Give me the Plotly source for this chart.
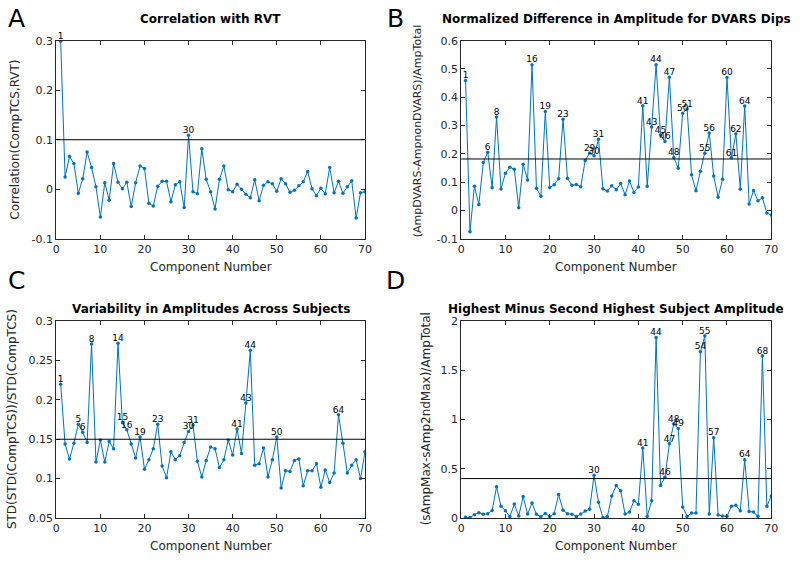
import plotly.graph_objects as go

# ---------------- data ----------------
components = list(range(1, 71))

corr_rvt = [0.299, 0.025, 0.066, 0.052, -0.008, 0.021, 0.075, 0.044, 0.005, -0.056,
            0.013, -0.022, 0.052, 0.014, 0.001, 0.014, -0.035, 0.013, 0.047, 0.042,
            -0.028, -0.034, 0.006, 0.016, 0.016, -0.025, 0.009, 0.015, -0.037, 0.109,
            -0.005, -0.009, 0.082, 0.020, -0.005, -0.040, 0.020, 0.047, -0.001, -0.005,
            0.010, 0.000, -0.010, -0.017, 0.019, -0.023, 0.008, 0.015, 0.011, -0.004,
            0.021, 0.011, -0.006, -0.002, 0.007, 0.015, 0.036, 0.001, -0.013, 0.002,
            -0.009, 0.044, -0.007, 0.016, -0.008, 0.005, 0.017, -0.058, -0.007, -0.005]

norm_diff_dvars = [0.459, -0.075, 0.086, 0.021, 0.170, 0.206, 0.080, 0.330, 0.076, 0.132,
                   0.153, 0.146, 0.010, 0.163, 0.108, 0.515, 0.079, 0.050, 0.350, 0.081,
                   0.091, 0.112, 0.322, 0.114, 0.089, 0.092, 0.084, 0.177, 0.203, 0.193,
                   0.252, 0.077, 0.069, 0.087, 0.073, 0.095, 0.056, 0.104, 0.064, 0.083,
                   0.370, 0.086, 0.295, 0.515, 0.267, 0.244, 0.471, 0.187, 0.149, 0.344,
                   0.359, 0.126, 0.070, 0.139, 0.202, 0.274, 0.122, 0.047, 0.110, 0.470,
                   0.186, 0.271, 0.075, 0.369, 0.023, 0.071, 0.034, 0.045, -0.009, -0.016]

variability = [0.220, 0.144, 0.125, 0.145, 0.169, 0.159, 0.146, 0.271, 0.121, 0.149,
               0.121, 0.147, 0.138, 0.272, 0.171, 0.162, 0.144, 0.126, 0.153, 0.112,
               0.124, 0.138, 0.169, 0.116, 0.101, 0.134, 0.124, 0.129, 0.146, 0.160,
               0.168, 0.122, 0.102, 0.123, 0.140, 0.138, 0.114, 0.124, 0.149, 0.130,
               0.163, 0.132, 0.196, 0.263, 0.117, 0.119, 0.139, 0.102, 0.124, 0.153,
               0.088, 0.110, 0.109, 0.123, 0.125, 0.091, 0.110, 0.110, 0.119, 0.089,
               0.111, 0.095, 0.107, 0.181, 0.145, 0.107, 0.117, 0.124, 0.100, 0.134]

max_minus_2nd = [0.007, 0.003, 0.033, 0.053, 0.036, 0.043, 0.076, 0.316, 0.118, 0.072,
                 0.013, 0.141, 0.020, 0.217, 0.039, 0.151, 0.036, 0.013, 0.046, 0.013,
                 0.043, 0.237, 0.079, 0.043, 0.036, 0.013, 0.039, 0.069, 0.089, 0.434,
                 0.158, 0.003, 0.013, 0.224, 0.329, 0.276, 0.039, 0.059, 0.174, 0.138,
                 0.711, 0.016, 0.174, 1.836, 0.329, 0.414, 0.753, 0.954, 0.908, 0.112,
                 0.016, 0.049, 0.049, 1.691, 1.852, 0.039, 0.816, 0.030, 0.020, 0.016,
                 0.118, 0.128, 0.072, 0.592, 0.066, 0.059, 0.016, 1.648, 0.118, 0.224]

thresholds = [0.1, 0.182, 0.15, 0.4]

labels_a = [1, 30]
labels_b = [1, 6, 8, 16, 19, 23, 29, 30, 31, 41, 43, 44, 45, 46, 47, 48, 50, 51,
            55, 56, 60, 61, 62, 64]
labels_c = [1, 5, 6, 8, 14, 15, 16, 19, 23, 30, 31, 41, 43, 44, 50, 64]
labels_d = [30, 41, 44, 46, 47, 48, 49, 54, 55, 57, 64, 68]

titles = ["Correlation with RVT",
          "Normalized Difference in Amplitude for DVARS Dips",
          "Variability in Amplitudes Across Subjects",
          "Highest Minus Second Highest Subject Amplitude"]
ylabels = ["Correlation(CompTCS,RVT)",
           "(AmpDVARS-AmpnonDVARS)/AmpTotal",
           "STD(STD(CompTCS))/STD(CompTCS)",
           "(sAmpMax-sAmp2ndMax)/AmpTotal"]
xlabel = "Component Number"
panel_letters = ["A", "B", "C", "D"]

x_ticks = [0, 10, 20, 30, 40, 50, 60, 70]
x_ticklabels = ["0", "10", "20", "30", "40", "50", "60", "70"]
y_ticks = [[-0.1, 0, 0.1, 0.2, 0.3],
           [-0.1, 0, 0.1, 0.2, 0.3, 0.4, 0.5, 0.6],
           [0.05, 0.1, 0.15, 0.2, 0.25, 0.3],
           [0, 0.5, 1, 1.5, 2]]
y_ticklabels = [["-0.1", "0", "0.1", "0.2", "0.3"],
                ["-0.1", "0", "0.1", "0.2", "0.3", "0.4", "0.5", "0.6"],
                ["0.05", "0.1", "0.15", "0.2", "0.25", "0.3"],
                ["0", "0.5", "1", "1.5", "2"]]
y_ranges = [[-0.1, 0.3], [-0.1, 0.6], [0.05, 0.3], [0, 2]]

series = [corr_rvt, norm_diff_dvars, variability, max_minus_2nd]
label_sets = [labels_a, labels_b, labels_c, labels_d]

# ---------------- layout geometry ----------------
W, H = 800, 563
FONT = "DejaVu Sans"
AX = "#262626"
BLUE = "#0072BD"

# plot areas in pixels: (left, right, top, bottom)
boxes = [(53, 366, 35.5, 238.3),
         (463.5, 778, 35.5, 238.3),
         (53, 366, 322.7, 524),
         (463.5, 778, 322.7, 524)]

def px_x(v):
    return v / W

def px_y(v):
    return 1 - v / H

fig = go.Figure()

for i in range(4):
    xa = "x" if i == 0 else f"x{i+1}"
    ya = "y" if i == 0 else f"y{i+1}"
    vals = series[i]
    fig.add_trace(go.Scatter(
        x=components, y=vals, mode="lines+markers",
        line=dict(color=BLUE, width=1),
        marker=dict(color=BLUE, size=3.5),
        xaxis=xa, yaxis=ya, showlegend=False, hoverinfo="x+y"))
    lx = label_sets[i]
    ly = [vals[c - 1] for c in lx]
    fig.add_trace(go.Scatter(
        x=lx, y=ly, mode="text", text=[str(c) for c in lx],
        textposition="top center",
        textfont=dict(family=FONT, size=9, color="#000000"),
        xaxis=xa, yaxis=ya, showlegend=False, hoverinfo="skip",
        cliponaxis=False))
    fig.add_shape(type="line", xref=xa, yref=ya, x0=0, x1=70,
                  y0=thresholds[i], y1=thresholds[i],
                  line=dict(color="#000000", width=1), layer="above")

layout = dict(width=W, height=H, margin=dict(l=0, r=0, t=0, b=0),
              paper_bgcolor="white", plot_bgcolor="white", showlegend=False)

axis_common = dict(showline=True, linecolor=AX, linewidth=1, mirror="allticks",
                   ticks="inside", ticklen=4, tickcolor=AX, tickwidth=1,
                   showgrid=False, zeroline=False,
                   tickfont=dict(family=FONT, size=11, color=AX))

for i in range(4):
    l, r, t, b = boxes[i]
    xkey = "xaxis" if i == 0 else f"xaxis{i+1}"
    ykey = "yaxis" if i == 0 else f"yaxis{i+1}"
    xa = "x" if i == 0 else f"x{i+1}"
    ya = "y" if i == 0 else f"y{i+1}"
    layout[xkey] = dict(axis_common, domain=[px_x(l), px_x(r)], range=[0, 70],
                        tickvals=x_ticks, ticktext=x_ticklabels, anchor=ya)
    layout[ykey] = dict(axis_common, domain=[px_y(b), px_y(t)], range=y_ranges[i],
                        tickvals=y_ticks[i], ticktext=y_ticklabels[i], anchor=xa)

fig.update_layout(**layout)

annotations = []
title_pos = [(209.5, 13.5), (621, 13.5), (209.5, 310), (621, 310)]
ylabel_x = [11, 419, 8, 428]
ylabel_y = [137, 128, 423, 423]
ylabel_size = [12, 11, 12, 12]
letter_pos = [(12.5, 13), (397, 13), (13, 281), (397, 281)]
for i in range(4):
    l, r, t, b = boxes[i]
    tx, ty = title_pos[i]
    annotations.append(dict(text="<b>" + titles[i] + "</b>", x=px_x(tx), y=px_y(ty),
                            xref="paper", yref="paper", showarrow=False,
                            xanchor="center", yanchor="middle",
                            font=dict(family=FONT, size=12, color="#000000")))
    annotations.append(dict(text=xlabel, x=px_x((l + r) / 2), y=px_y(b + 29),
                            xref="paper", yref="paper", showarrow=False,
                            xanchor="center", yanchor="middle",
                            font=dict(family=FONT, size=12, color=AX)))
    annotations.append(dict(text=ylabels[i], x=px_x(ylabel_x[i]), y=px_y(ylabel_y[i]),
                            xref="paper", yref="paper", showarrow=False, textangle=-90,
                            xanchor="center", yanchor="middle",
                            font=dict(family=FONT, size=ylabel_size[i], color=AX)))
    lx_, ly_ = letter_pos[i]
    annotations.append(dict(text=panel_letters[i], x=px_x(lx_), y=px_y(ly_),
                            xref="paper", yref="paper", showarrow=False,
                            xanchor="center", yanchor="middle",
                            font=dict(family=FONT, size=25, color="#000000")))

fig.update_layout(annotations=annotations)

fig.write_html("out.html", config={"displayModeBar": False},
               post_script="document.body.style.margin='0';document.body.style.overflow='hidden';")
